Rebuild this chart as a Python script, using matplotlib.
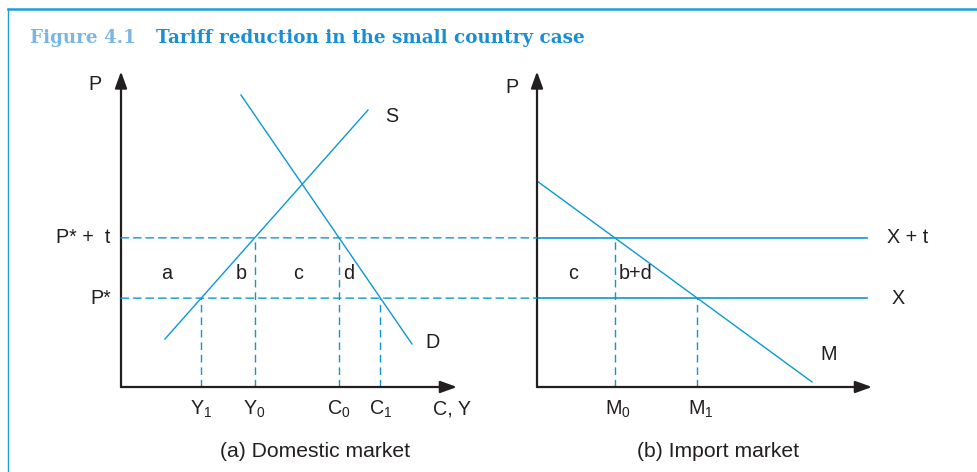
import matplotlib
matplotlib.use("Agg")
import matplotlib.pyplot as plt
from matplotlib.patches import ConnectionPatch
from matplotlib.lines import Line2D

plt.rcParams['font.family'] = ['Liberation Sans', 'DejaVu Sans']
plt.rcParams['mathtext.default'] = 'regular'

# diagram values (axes run 0..10)
p_world = 2.83          # P*
p_tariff = 4.75         # P* + t
supply = ([1.31, 7.35], [1.53, 8.82])
demand = ([3.57, 8.66], [9.30, 1.37])
qty_left = [2.39, 3.98, 6.49, 7.72]         # Y1, Y0, C0, C1
qty_left_labels = ['$Y_1$', '$Y_0$', '$C_0$', '$C_1$']
qty_left_levels = [p_world, p_tariff, p_tariff, p_world]
areas_left = ['a', 'b', 'c', 'd']
areas_left_x = [1.37, 3.57, 5.27, 6.79]

import_demand = ([0.0, 8.21], [6.56, 0.16])
world_supply_end = 9.85
qty_right = [2.32, 4.79]                    # M0, M1
qty_right_labels = ['$M_0$', '$M_1$']
qty_right_levels = [p_tariff, p_world]

blue = '#0a98d6'
dark = '#231f20'
fs = 14.2
fs_cap = 15.2

fig = plt.figure(figsize=(9.77, 4.72), dpi=100)
W, H = 977, 472
ax1 = fig.add_axes([121 / W, 85 / H, 336 / W, 314 / H])
ax2 = fig.add_axes([537 / W, 85 / H, 335 / W, 314 / H])

for ax in (ax1, ax2):
    ax.set_xlim(0, 10)
    ax.set_ylim(0, 10)
    ax.axis('off')
    arrow = dict(arrowstyle='-|>,head_length=0.5,head_width=0.18', mutation_scale=20,
                 lw=1.6, color=dark, shrinkA=0, shrinkB=0)
    ax.annotate('', xy=(10, 0), xytext=(0, 0), arrowprops=arrow, annotation_clip=False)
    ax.annotate('', xy=(0, 10.05), xytext=(0, 0), arrowprops=arrow, annotation_clip=False)

dash = (5.5, 3.5)

# (a) domestic market
ax1.plot(*supply, color=blue, lw=1.0)
ax1.plot(*demand, color=blue, lw=1.0)
for q, lev, lab in zip(qty_left, qty_left_levels, qty_left_labels):
    ax1.plot([q, q], [0, lev], color=blue, lw=1.0, ls='--', dashes=dash)
    ax1.text(q, -0.72, lab, ha='center', va='center', fontsize=fs, color=dark)
for lab, x in zip(areas_left, areas_left_x):
    ax1.text(x, 3.6, lab, ha='center', va='center', fontsize=fs, color=dark)
ax1.text(-0.77, 9.62, 'P', ha='center', va='center', fontsize=fs, color=dark)
ax1.text(-0.33, p_tariff, 'P* +  t', ha='right', va='center', fontsize=fs, color=dark)
ax1.text(-0.3, p_world, 'P*', ha='right', va='center', fontsize=fs, color=dark)
ax1.text(8.07, 8.6, 'S', ha='center', va='center', fontsize=fs, color=dark)
ax1.text(9.26, 1.43, 'D', ha='center', va='center', fontsize=fs, color=dark)
ax1.text(9.85, -0.7, 'C, Y', ha='center', va='center', fontsize=fs, color=dark)
ax1.text(5.77, -2.04, '(a) Domestic market', ha='center', va='center',
         fontsize=fs_cap, color=dark)

# (b) import market
ax2.plot(*import_demand, color=blue, lw=1.0)
for lev in (p_tariff, p_world):
    ax2.plot([0, world_supply_end], [lev, lev], color=blue, lw=1.2)
for q, lev, lab in zip(qty_right, qty_right_levels, qty_right_labels):
    ax2.plot([q, q], [0, lev], color=blue, lw=1.0, ls='--', dashes=dash)
    ax2.text(q + 0.1, -0.72, lab, ha='center', va='center', fontsize=fs, color=dark)
ax2.text(-0.74, 9.55, 'P', ha='center', va='center', fontsize=fs, color=dark)
ax2.text(10.45, p_tariff, 'X + t', ha='left', va='center', fontsize=fs, color=dark)
ax2.text(10.57, p_world, 'X', ha='left', va='center', fontsize=fs, color=dark)
ax2.text(8.72, 1.02, 'M', ha='center', va='center', fontsize=fs, color=dark)
ax2.text(1.07, 3.6, 'c', ha='center', va='center', fontsize=fs, color=dark)
ax2.text(2.45, 3.6, 'b+d', ha='left', va='center', fontsize=fs, color=dark)
ax2.text(5.39, -2.04, '(b) Import market', ha='center', va='center',
         fontsize=fs_cap, color=dark)

# price levels carried across both panels
for lev in (p_tariff, p_world):
    con = ConnectionPatch(xyA=(0, lev), coordsA=ax1.transData,
                          xyB=(0, lev), coordsB=ax2.transData,
                          color=blue, lw=1.0, ls=(0, dash))
    fig.add_artist(con)

# frame and title
fig.add_artist(Line2D([7.5 / W, 1], [1 - 9 / H, 1 - 9 / H], color='#1a9ddb', lw=1.8))
fig.add_artist(Line2D([7.5 / W, 7.5 / W], [0, 1 - 9 / H], color='#1a9ddb', lw=1.0))
fig.text(30 / W, 1 - 38 / H, 'Figure 4.1', ha='left', va='center', fontsize=13.2,
         family='DejaVu Serif', weight='bold', color='#7ab6e4')
fig.text(156 / W, 1 - 38 / H, 'Tariff reduction in the small country case', ha='left',
         va='center', fontsize=13.2, family='DejaVu Serif', weight='bold', color='#1a8ed4')

fig.savefig('out.png', dpi=100)
